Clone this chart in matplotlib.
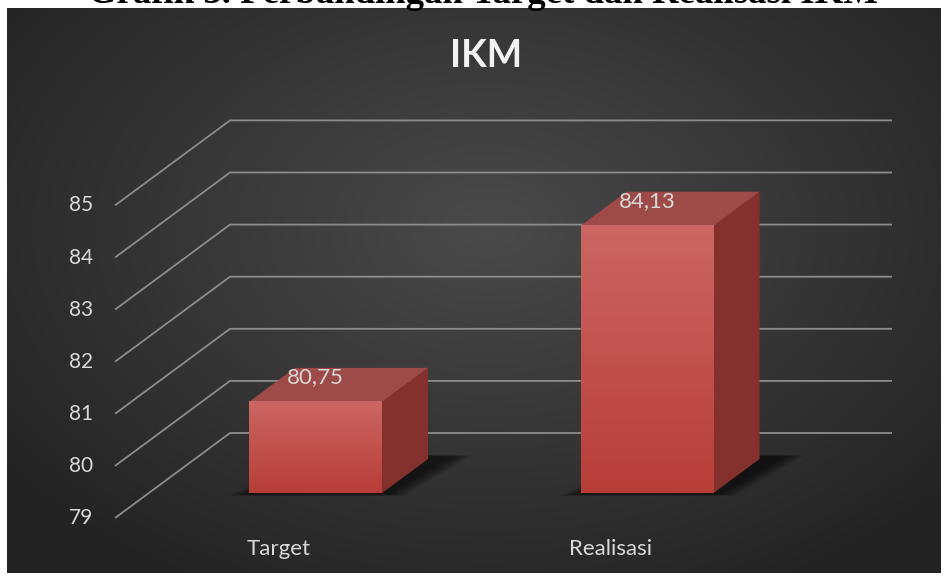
"""Grafik 3: perbandingan target dan realisasi IKM (kolom 3D gaya Excel)."""
import numpy as np
import matplotlib
matplotlib.use("Agg")
import matplotlib.pyplot as plt
from matplotlib.patches import Polygon

categories = ["Target", "Realisasi"]
values = [80.75, 84.13]
value_labels = ["80,75", "84,13"]
ticks = [79, 80, 81, 82, 83, 84, 85]

W, H = 953, 577
PX = 52.1              # piksel per satuan nilai
BACK_Y0 = 433          # posisi piksel nilai 79 di dinding belakang
WALL_X0, WALL_X1 = 230, 892
DEPTH_DX = -115        # pergeseran x dari dinding belakang ke tepi depan
DEPTH_DY = -85 / PX    # pergeseran y (dalam satuan nilai)
D_FRONT, D_BACK = 0.706, 0.306
BAR_X0, BAR_STEP, BAR_HW = 396.7, 331.5, 66.5

FONT = ["Lato", "DejaVu Sans"]
TXT = "#d9d9d9"


def proj(x, v, d):
    return x + DEPTH_DX * d, v + DEPTH_DY * d


fig = plt.figure(figsize=(W / 100, H / 100), dpi=100, facecolor="white")

# latar panel gelap dengan gradasi radial
bg = fig.add_axes([7 / W, 4 / H, 934 / W, 565 / H])
bg.set_axis_off()
yy, xx = np.mgrid[0:565, 0:934]
r = np.sqrt(((xx - 480) / 600) ** 2 + ((yy - 220) / 400) ** 2)
shade = np.clip(0.29 - 0.15 * r, 0.14, 0.29)
bg.imshow(np.dstack([shade] * 3), aspect="auto", extent=[0, 1, 0, 1])

ax = fig.add_axes([0, 0, 1, 1])
ax.patch.set_alpha(0)
ax.set_axis_off()

# garis kisi: dinding belakang + lantai miring ke depan
for v in ticks:
    xf, vf = proj(WALL_X0, v, 1)
    ax.plot([WALL_X1, WALL_X0, xf], [v, v, vf], color="#8c8c8c", lw=1.3,
            solid_capstyle="butt", zorder=1)
    ax.text(xf - 22, vf, str(v), ha="right", va="center", color=TXT,
            fontsize=15, family=FONT)

for i, (cat, val, lab) in enumerate(zip(categories, values, value_labels)):
    cx = BAR_X0 + i * BAR_STEP
    xl, xr = cx - BAR_HW, cx + BAR_HW

    # bayangan lembut di lantai
    for k in range(8):
        g = (7 - k) * 2.5
        pts = [proj(xl - g, 79, D_FRONT + 0.015 + g / 900), proj(xr + g + 8, 79, D_FRONT + 0.015 + g / 900),
               proj(xr + g + 22, 79, D_BACK - 0.04), proj(xl + 20, 79, D_BACK - 0.04)]
        ax.add_patch(Polygon(pts, closed=True, fc="black", ec="none", alpha=0.09, zorder=2))

    # sisi kanan
    side = [proj(xr, 79, D_FRONT), proj(xr, 79, D_BACK),
            proj(xr, val, D_BACK), proj(xr, val, D_FRONT)]
    ax.add_patch(Polygon(side, closed=True, fc="#84302d", ec="none", zorder=3))
    # sisi atas
    top = [proj(xl, val, D_FRONT), proj(xr, val, D_FRONT),
           proj(xr, val, D_BACK), proj(xl, val, D_BACK)]
    ax.add_patch(Polygon(top, closed=True, fc="#9d4a48", ec="none", zorder=3))

    # muka depan dengan gradasi vertikal
    fx0, fb = proj(xl, 79, D_FRONT)
    fx1, ft = proj(xr, val, D_FRONT)
    top_c = np.array([0.80, 0.40, 0.39])
    bot_c = np.array([0.72, 0.24, 0.22])
    t = np.linspace(0, 1, 100)[:, None]
    grad = top_c * (1 - t) + bot_c * t
    ax.imshow(grad[:, None, :], extent=[fx0, fx1, fb, ft], aspect="auto",
              origin="upper", zorder=4)

    ax.text((fx0 + fx1) / 2, ft + 25 / PX, lab, ha="center", va="center",
            color=TXT, fontsize=16, family=FONT, zorder=6)

    lx, lv = proj(cx, 79, 1)
    ax.text(lx - 3, lv - 31 / PX, cat, ha="center", va="center", color=TXT,
            fontsize=16, family=FONT)

ax.set_xlim(0, W)
ax.set_ylim(79 - (H - BACK_Y0) / PX, 79 + BACK_Y0 / PX)

fig.text(486 / W, 1 - 56 / H, "IKM", ha="center", va="center", color="#f2f2f2",
         fontsize=27, fontweight="bold", family=FONT)

# judul dokumen, terpotong di tepi atas gambar
fig.text(483 / W, 1 - 3 / H, "Grafik 3. Perbandingan Target dan Realisasi IKM",
         ha="center", va="baseline", color="black", fontsize=26.5,
         fontweight="bold", family=["Liberation Serif", "DejaVu Serif"])

fig.savefig("out.png", dpi=100, facecolor="white")
